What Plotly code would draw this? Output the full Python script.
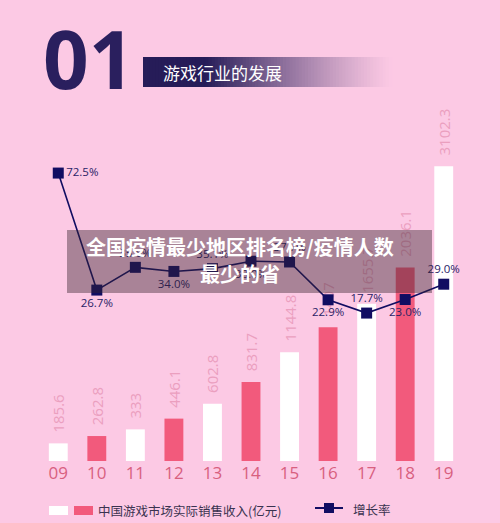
import plotly.graph_objects as go

# ---- data ----
years = ["09", "10", "11", "12", "13", "14", "15", "16", "17", "18", "19"]
revenue = [185.6, 262.8, 333, 446.1, 602.8, 831.7, 1144.8, 1407.0, 1655.7, 2036.1, 3102.3]
revenue_labels = ["185.6", "262.8", "333", "446.1", "602.8", "831.7", "1144.8", "1407", "1655.7", "2036.1", "3102.3"]
growth = [72.5, 26.7, 35.6, 34.0, 35.1, 38.0, 37.7, 22.9, 17.7, 23.0, 29.0]
growth_pos = ["middle right", "bottom center", "top center", "bottom center", "top center",
              "bottom center", "top center", "bottom center", "top center", "bottom center", "top center"]

BG = "#fcc9e4"
BG_RGB = (252, 201, 228)
NAVY_RGB = (38, 28, 88)
RED = "#f25a7c"
WHITE = "#ffffff"
NAVY = "#110d62"
bar_colors = [WHITE if i % 2 == 0 else RED for i in range(len(years))]

W, H = 500, 523
L, R, T, B = 39, 463, 100, 461


def px(x):
    return (x - L) / (R - L)


def py(y):
    return (B - y) / (B - T)


fig = go.Figure()
fig.add_trace(go.Bar(
    x=years, y=revenue, marker=dict(color=bar_colors, line=dict(width=0)),
    text=["\u00a0\u00a0" + s for s in revenue_labels], textposition="outside", textangle=-90,
    constraintext="none",
    textfont=dict(family="Open Sans", size=15, color="#eb9fbf"),
    cliponaxis=False, showlegend=False, hoverinfo="skip", yaxis="y",
))
fig.add_trace(go.Scatter(
    x=years, y=growth, yaxis="y2", mode="lines+markers+text",
    line=dict(color=NAVY, width=1.6),
    marker=dict(symbol="square", size=11, color=NAVY),
    text=[f"{v:.1f}%" for v in growth], textposition=growth_pos,
    textfont=dict(family="Open Sans", size=11.5, color="#2a2266"),
    cliponaxis=False, showlegend=False, hoverinfo="skip",
))

shapes = []
annotations = []

# header gradient banner (opaque blended slices)
x0, x1 = 143, 392
n = 80
for i in range(n):
    a = x0 + (x1 - x0) * i / n
    b = x0 + (x1 - x0) * (i + 1) / n
    xc = (a + b) / 2
    if xc < 205:
        op = 1.0
    else:
        t = (xc - 205) / (x1 - 205)
        op = max(0.0, 1 - t) ** 1.2
    col = tuple(round(BG_RGB[k] * (1 - op) + NAVY_RGB[k] * op) for k in range(3))
    shapes.append(dict(type="rect", xref="paper", yref="paper",
                       x0=px(a), x1=px(b + 0.8), y0=py(87), y1=py(57),
                       fillcolor=f"rgb{col}", line=dict(width=0), layer="below"))
annotations.append(dict(text="<b>01</b>", x=px(41), y=py(57), xref="paper", yref="paper",
                        xanchor="left", yanchor="middle", showarrow=False,
                        font=dict(family="Noto Sans", size=80, color="#2a1f5e")))
annotations.append(dict(text="游戏行业的发展", x=px(161), y=py(72), xref="paper", yref="paper",
                        xanchor="left", yanchor="middle", showarrow=False,
                        font=dict(family="Noto Sans CJK SC", size=17, color="#ffffff")))

# overlay banner
shapes.append(dict(type="rect", xref="paper", yref="paper", x0=px(67), x1=px(432),
                   y0=py(293), y1=py(230),
                   fillcolor="rgba(55,35,45,0.42)", line=dict(width=0), layer="above"))
annotations.append(dict(text="<b>全国疫情最少地区排名榜/疫情人数</b>", x=px(240), y=py(246),
                        xref="paper", yref="paper", xanchor="center", yanchor="middle", showarrow=False,
                        font=dict(family="Noto Sans CJK SC", size=20, color="#ffffff")))
annotations.append(dict(text="<b>最少的省</b>", x=px(240), y=py(273),
                        xref="paper", yref="paper", xanchor="center", yanchor="middle", showarrow=False,
                        font=dict(family="Noto Sans CJK SC", size=20, color="#ffffff")))

# legend (manual)
shapes.append(dict(type="rect", xref="paper", yref="paper", x0=px(49), x1=px(68),
                   y0=py(515), y1=py(506), fillcolor=WHITE, line=dict(width=0)))
shapes.append(dict(type="rect", xref="paper", yref="paper", x0=px(74), x1=px(93),
                   y0=py(515), y1=py(506), fillcolor=RED, line=dict(width=0)))
annotations.append(dict(text="中国游戏市场实际销售收入(亿元)", x=px(96), y=py(510),
                        xref="paper", yref="paper", xanchor="left", yanchor="middle", showarrow=False,
                        font=dict(family="Noto Sans CJK SC", size=12.5, color="#3a3350")))
shapes.append(dict(type="line", xref="paper", yref="paper", x0=px(315), x1=px(343),
                   y0=py(508), y1=py(508), line=dict(color=NAVY, width=2)))
shapes.append(dict(type="rect", xref="paper", yref="paper", x0=px(324), x1=px(334),
                   y0=py(513), y1=py(503), fillcolor=NAVY, line=dict(width=0)))
annotations.append(dict(text="增长率", x=px(351), y=py(509),
                        xref="paper", yref="paper", xanchor="left", yanchor="middle", showarrow=False,
                        font=dict(family="Noto Sans CJK SC", size=12.5, color="#3a3350")))

fig.update_layout(
    width=W, height=H,
    paper_bgcolor=BG, plot_bgcolor=BG,
    margin=dict(l=L, r=W - R, t=T, b=H - B),
    bargap=0.51,
    xaxis=dict(type="category", range=[-0.5, len(years) - 0.5], showgrid=False, zeroline=False,
               showline=False, ticks="",
               tickfont=dict(family="Open Sans", size=17, color="#d8607f")),
    yaxis=dict(range=[0, 3800], visible=False, showgrid=False),
    yaxis2=dict(range=[-40.2, 101.1], overlaying="y", visible=False, showgrid=False),
    shapes=shapes, annotations=annotations,
    showlegend=False,
)
fig.write_html("out.html", config={"displayModeBar": False},
               post_script="document.body.style.margin='0';document.body.style.background='" + BG + "';")
